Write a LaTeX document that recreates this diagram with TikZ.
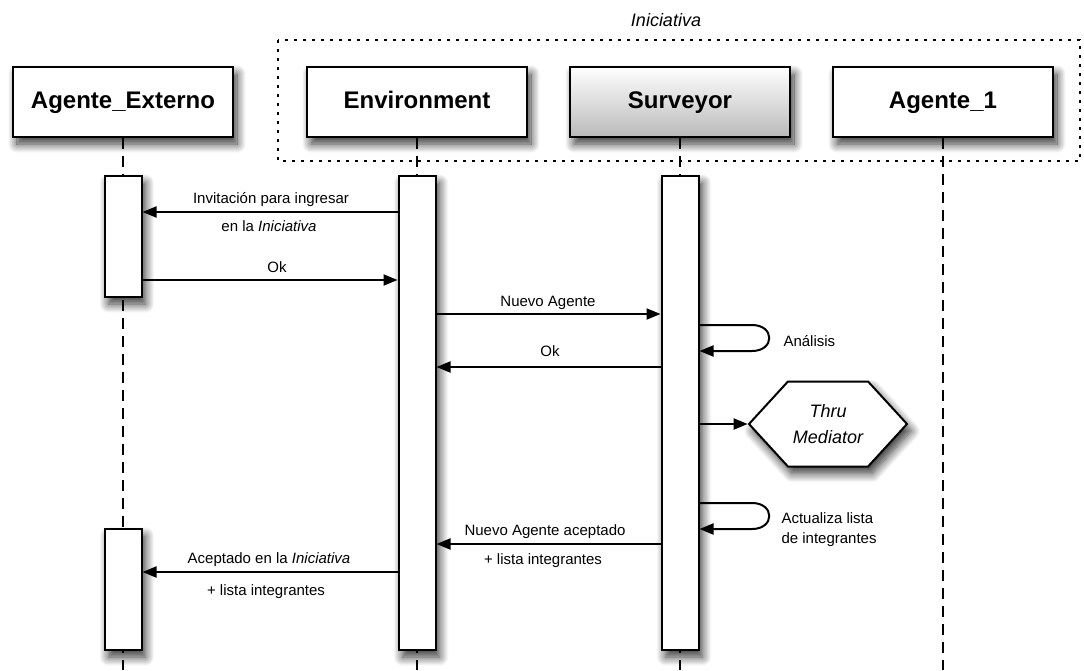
\documentclass[tikz,border=0pt]{standalone}
\usepackage{fontspec}
\setmainfont{Liberation Sans}
\usetikzlibrary{arrows.meta,shadows.blur,shapes.symbols}

\tikzset{
  sombra/.style={blur shadow={shadow xshift=4pt,shadow yshift=-7pt,shadow blur radius=9pt,shadow blur steps=12,shadow opacity=80}},
  actor/.style={draw,line width=2pt,fill=white,minimum width=220pt,minimum height=70pt,
    text height=17pt,text depth=5pt,font=\fontsize{24}{28}\selectfont\bfseries,sombra},
  barra/.style={draw,line width=2pt,fill=white,minimum width=37pt,inner sep=0pt,anchor=north,sombra},
  vida/.style={line width=2pt,dash pattern=on 11pt off 7pt},
  msg/.style={line width=2pt,-{Triangle[length=14pt,width=11pt]}},
  lbl/.style={font=\fontsize{15}{20}\selectfont,anchor=base},
  med/.style={draw,line width=2pt,fill=white,signal,signal to=west and east,signal pointer angle=95,
    minimum width=158pt,minimum height=85pt,inner sep=0pt,align=center,
    font=\fontsize{18}{26}\selectfont\itshape,sombra},
}

\begin{document}
\begin{tikzpicture}[x=1pt,y=-1pt]
\useasboundingbox (0,0) rectangle (1084,670);
\path
(0,670) coordinate (fondo)
(0,212) coordinate (r1) (0,280) coordinate (r2)
(0,314) coordinate (r3) (0,367) coordinate (r4)
(0,325) coordinate (r5) (0,351) coordinate (r6)
(0,503) coordinate (r7) (0,529) coordinate (r8)
(0,544) coordinate (r9) (0,572) coordinate (r10)
(752,325) coordinate (a1) (752,351) coordinate (a2)
(752,503) coordinate (b1) (752,529) coordinate (b2)
;
% cabeceras
\node[actor] (ext) at (123,102) {Agente\_Externo};
\node[actor] (env) at (417,102) {Environment};
\node[actor,top color=white,bottom color=black!27] (surv) at (680,102) {Surveyor};
\node[actor] (ag1) at (943,102) {Agente\_1};
\foreach \n in {ext,env,surv,ag1}
  \draw[vida] (\n.south) -- (\n.south |- fondo);
\draw[line width=2.5pt,dash pattern=on 3pt off 6pt] (278,40) rectangle (1080,161);
\node[font=\fontsize{18}{22}\selectfont\itshape,anchor=base] (tit) at (666,26) {Iniciativa};
% activaciones
\node[barra,minimum height=121pt] (ext1) at (123,175) {};
\node[barra,minimum height=121pt] (ext2) at (123,528) {};
\node[barra,minimum height=474pt] (envb) at (417,175) {};
\node[barra,minimum height=474pt] (survb) at (680,175) {};
% mensajes
\draw[msg] (envb.west |- r1) -- (ext1.east |- r1);
\draw[msg] (ext1.east |- r2) -- (envb.west |- r2);
\draw[msg] (envb.east |- r3) -- (survb.west |- r3);
\draw[msg] (survb.west |- r4) -- (envb.east |- r4);
\draw[msg] (survb.east |- r5) -- (a1) .. controls (775,325) and (775,351) .. (a2) -- (survb.east |- r6);
\node[med] (medi) at (828,424) {Thru\\Mediator};
\draw[msg] (survb.east |- medi) -- (medi.west);
\draw[msg] (survb.east |- r7) -- (b1) .. controls (775,503) and (775,529) .. (b2) -- (survb.east |- r8);
\draw[msg] (survb.west |- r9) -- (envb.east |- r9);
\draw[msg] (envb.west |- r10) -- (ext2.east |- r10);
% textos
\node[lbl] (t1) at (271,203) {Invitación para ingresar};
\node[lbl] (t2) at (269,231) {en la \textit{Iniciativa}};
\node[lbl] (t3) at (277,272) {Ok};
\node[lbl] (t4) at (548,306) {Nuevo Agente};
\node[lbl] (t5) at (550,356) {Ok};
\node[lbl,anchor=base west] (t6) at (780,346) {Análisis};
\node[lbl,anchor=west,align=left] (t7) at (778,530) {Actualiza lista\\de integrantes};
\node[lbl] (t8) at (545,535) {Nuevo Agente aceptado};
\node[lbl] (t9) at (543,564) {+ lista integrantes};
\node[lbl] (t10) at (269,563) {Aceptado en la \textit{Iniciativa}};
\node[lbl] (t11) at (266,595) {+ lista integrantes};
\end{tikzpicture}
\end{document}
